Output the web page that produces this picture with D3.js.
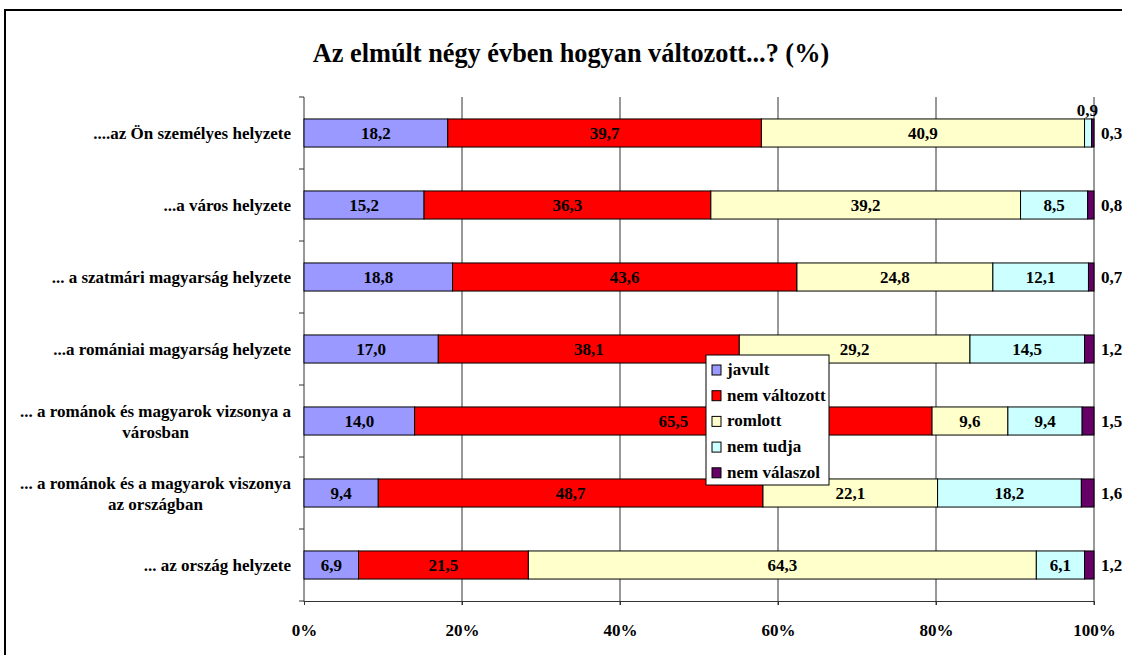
<!DOCTYPE html>
<html>
<head>
<meta charset="utf-8">
<style>
  body { margin: 0; background: #fff; }
</style>
</head>
<body>
<script src="https://d3js.org/d3.v7.min.js"></script>
<script>

const width = 1122;
const height = 655;
const FONT = '"Liberation Serif", "Times New Roman", serif';

// categories, top to bottom
const categories = [
  ['....az Ön személyes helyzete'],
  ['...a város helyzete'],
  ['... a szatmári magyarság helyzete'],
  ['...a romániai magyarság helyzete'],
  ['... a románok és magyarok vizsonya a', 'városban'],
  ['... a románok és a magyarok viszonya', 'az országban'],
  ['... az ország helyzete']
];

const seriesNames = ['javult', 'nem változott', 'romlott', 'nem tudja', 'nem válaszol'];
const seriesColors = ['#9999FF', '#FF0000', '#FFFFCC', '#CCFFFF', '#660066'];

const javult       = [18.2, 15.2, 18.8, 17.0, 14.0, 9.4, 6.9];
const nemValtozott = [39.7, 36.3, 43.6, 38.1, 65.5, 48.7, 21.5];
const romlott      = [40.9, 39.2, 24.8, 29.2, 9.6, 22.1, 64.3];
const nemTudja     = [0.9, 8.5, 12.1, 14.5, 9.4, 18.2, 6.1];
const nemValaszol  = [0.3, 0.8, 0.7, 1.2, 1.5, 1.6, 1.2];

const tickValues = [0, 20, 40, 60, 80, 100];

const seriesValues = [javult, nemValtozott, romlott, nemTudja, nemValaszol];

const svg = d3.select('body')
              .append('svg')
              .attr('width', width)
              .attr('height', height)
              .style('font-family', FONT)
              .style('font-weight', 'bold');

// outer frame
svg.append('rect')
   .attr('x', 5).attr('y', 10)
   .attr('width', width + 20).attr('height', height + 20)
   .attr('fill', 'none')
   .attr('stroke', '#000')
   .attr('stroke-width', 2);

svg.append('text')
   .attr('x', 571).attr('y', 62)
   .attr('text-anchor', 'middle')
   .style('font-family', FONT)
   .style('font-weight', 'bold')
   .style('font-size', '26.3px')
   .text('Az elmúlt négy évben hogyan változott...? (%)');

const x = d3.scaleLinear().domain([0, 100]).range([304, 1094]);
const y = d3.scaleBand()
            .domain(d3.range(categories.length))
            .range([97, 601])
            .paddingInner(0.61)
            .paddingOuter(0.305);

// gridlines
svg.append('g')
   .selectAll('line')
   .data(tickValues.slice(1))
   .enter()
   .append('line')
   .attr('x1', d => x(d)).attr('x2', d => x(d))
   .attr('y1', 97).attr('y2', 605)
   .attr('stroke', '#333')
   .attr('stroke-width', 1);

// left axis line + ticks at band boundaries
svg.append('line')
   .attr('x1', x(0)).attr('x2', x(0))
   .attr('y1', 97).attr('y2', 602)
   .attr('stroke', '#333');

const step = y.step();
svg.append('g')
   .selectAll('line')
   .data(d3.range(categories.length + 1))
   .enter()
   .append('line')
   .attr('x1', x(0) - 5).attr('x2', x(0))
   .attr('y1', i => 97 + i * step).attr('y2', i => 97 + i * step)
   .attr('stroke', '#333');

// bottom axis
const xAxis = d3.axisBottom(x)
                .tickValues(tickValues)
                .tickSize(4)
                .tickFormat(d => d + '%');
const gx = svg.append('g')
   .attr('transform', 'translate(0,601)')
   .call(xAxis);
gx.attr('font-family', null).attr('font-size', null);
gx.select('.domain').attr('stroke', '#333');
gx.selectAll('.tick line').attr('stroke', '#333');
gx.selectAll('.tick text')
  .attr('dy', 0)
  .attr('y', 35)
  .style('font-size', '17px')
  .style('font-family', FONT)
  .style('font-weight', 'bold')
  .attr('fill', '#000');

// stacked data
const rows = categories.map((c, i) => {
  let acc = 0;
  return seriesValues.map((s, k) => {
    const seg = { row: i, k: k, v: s[i], x0: acc, x1: acc + s[i] };
    acc += s[i];
    return seg;
  });
});

const segs = rows.flat();

svg.append('g')
   .selectAll('rect')
   .data(segs)
   .enter()
   .append('rect')
   .attr('x', d => x(d.x0))
   .attr('y', d => y(d.row))
   .attr('width', d => x(d.x1) - x(d.x0))
   .attr('height', y.bandwidth())
   .attr('fill', d => seriesColors[d.k])
   .attr('stroke', '#000')
   .attr('stroke-width', 1);

const fmt = v => v.toFixed(1).replace('.', ',');

svg.append('g')
   .selectAll('text')
   .data(segs)
   .enter()
   .append('text')
   .style('font-family', FONT)
   .style('font-weight', 'bold')
   .style('font-size', '17px')
   .attr('text-anchor', d => {
     if (d.k === 4) return 'start';
     if (d.v < 3) return 'end';
     return 'middle';
   })
   .attr('x', d => {
     if (d.k === 4) return x(100) + 7;
     if (d.v < 3) return x(100) + 4;
     return (x(d.x0) + x(d.x1)) / 2;
   })
   .attr('y', d => {
     if (d.k !== 4 && d.v < 3) return y(d.row) - 3;
     return y(d.row) + y.bandwidth() / 2 + 6;
   })
   .text(d => fmt(d.v));

// category labels
const labelG = svg.append('g');
categories.forEach((lines, i) => {
  const cy = y(i) + y.bandwidth() / 2;
  const lh = 21;
  const t = labelG.append('text')
                  .attr('text-anchor', 'middle')
                  .style('font-family', FONT)
                  .style('font-weight', 'bold')
                  .style('font-size', '17px');
  lines.forEach((ln, j) => {
    t.append('tspan')
     .attr('y', cy + 6 + (j - (lines.length - 1) / 2) * lh)
     .text(ln);
  });
  let maxW = 0;
  t.selectAll('tspan').each(function() {
    maxW = Math.max(maxW, this.getComputedTextLength());
  });
  t.selectAll('tspan').attr('x', 291 - maxW / 2);
});

// legend
const legend = svg.append('g').attr('transform', 'translate(706,355)');
legend.append('rect')
      .attr('width', 123).attr('height', 130)
      .attr('fill', '#fff')
      .attr('stroke', '#000');
const item = legend.selectAll('g.item')
      .data(seriesNames)
      .enter()
      .append('g')
      .attr('class', 'item')
      .attr('transform', (d, i) => `translate(6,${10 + i * 25.7})`);
item.append('rect')
    .attr('width', 9).attr('height', 10)
    .attr('fill', (d, i) => seriesColors[i])
    .attr('stroke', '#000');
item.append('text')
    .attr('x', 15).attr('y', 10)
    .style('font-family', FONT)
    .style('font-weight', 'bold')
    .style('font-size', '17px')
    .text(d => d);

</script>
</body>
</html>
